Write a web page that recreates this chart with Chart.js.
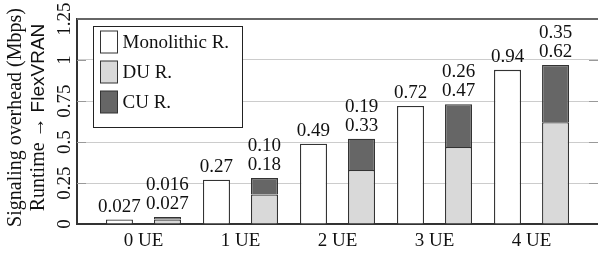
<!DOCTYPE html>
<html>
<head>
<meta charset="utf-8">
<script src="https://cdn.jsdelivr.net/npm/chart.js@4"></script>
<style>
  body { margin: 0; background: #fff; }
</style>
</head>
<body>
<canvas id="chart" width="598" height="255"></canvas>
<script>
const categories = ['0 UE', '1 UE', '2 UE', '3 UE', '4 UE'];
const positions = [0, 1, 2, 3, 4];
const monolithic = [0.027, 0.27, 0.49, 0.72, 0.94];
const duRuntime = [0.027, 0.18, 0.33, 0.47, 0.62];
const cuRuntime = [0.016, 0.10, 0.19, 0.26, 0.35];
const yTicks = [0, 0.25, 0.5, 0.75, 1, 1.25];
const seriesNames = ['Monolithic R.', 'DU R.', 'CU R.'];
const titleLine1 = 'Signaling overhead (Mbps)';
const titleLine2 = ['Runtime \u2192 ', 'FlexVRAN'];

const SERIF = '"Liberation Serif", "DejaVu Serif", serif';
const SANS = '"Liberation Sans", "DejaVu Sans", sans-serif';

const fmt = v => v.toFixed(v < 0.05 ? 3 : 2);
const pts = arr => arr.map((v, i) => ({ x: positions[i], y: v }));

// value labels above bars, two lines on the stacked bar
const barLabels = {
  id: 'barLabels',
  afterDatasetsDraw(chart) {
    const ctx = chart.ctx;
    ctx.save();
    ctx.font = '19px ' + SERIF;
    ctx.fillStyle = '#111';
    ctx.textAlign = 'center';
    ctx.textBaseline = 'alphabetic';
    const mono = chart.getDatasetMeta(0).data;
    const cu = chart.getDatasetMeta(2).data;
    mono.forEach((bar, i) => {
      ctx.fillText(fmt(monolithic[i]), bar.x, bar.y - 8);
    });
    cu.forEach((bar, i) => {
      ctx.fillText(fmt(duRuntime[i]), bar.x, bar.y - 8);
      ctx.fillText(fmt(cuRuntime[i]), bar.x, bar.y - 27);
    });
    ctx.restore();
  }
};

// frame, inner ticks, legend box and the y title
const decor = {
  id: 'decor',
  afterDraw(chart) {
    const ctx = chart.ctx;
    const a = chart.chartArea;
    const ys = chart.scales.y;
    ctx.save();

    ctx.strokeStyle = '#999';
    ctx.lineWidth = 1;
    yTicks.slice(1, -1).forEach(v => {
      const y = Math.round(ys.getPixelForValue(v)) + 0.5;
      ctx.beginPath();
      ctx.moveTo(a.left, y); ctx.lineTo(a.left + 9, y);
      ctx.moveTo(a.right - 9, y); ctx.lineTo(a.right, y);
      ctx.stroke();
    });

    ctx.strokeStyle = '#666';
    ctx.lineWidth = 2;
    ctx.beginPath();
    ctx.moveTo(a.left, a.top); ctx.lineTo(a.right, a.top);
    ctx.stroke();

    // legend
    const bx = a.left + 16.5, by = a.top + 7.5, bw = 149, bh = 101;
    ctx.fillStyle = '#fff';
    ctx.fillRect(bx, by, bw, bh);
    ctx.strokeStyle = '#222';
    ctx.lineWidth = 1;
    ctx.strokeRect(bx, by, bw, bh);
    ctx.font = '19px ' + SERIF;
    ctx.textBaseline = 'middle';
    ctx.textAlign = 'left';
    chart.data.datasets.forEach((ds, i) => {
      const sy = by + 4.5 + i * 30;
      ctx.fillStyle = ds.backgroundColor;
      ctx.fillRect(bx + 7, sy, 17, 22);
      ctx.strokeStyle = '#333';
      ctx.strokeRect(bx + 7, sy, 17, 22);
      ctx.fillStyle = '#111';
      ctx.fillText(seriesNames[i], bx + 29, sy + 12);
    });

    // y title, rotated, with the sans FlexVRAN
    const cy = (a.top + a.bottom) / 2;
    ctx.translate(0, cy);
    ctx.rotate(-Math.PI / 2);
    ctx.fillStyle = '#111';
    ctx.textAlign = 'center';
    ctx.font = '20px ' + SERIF;
    ctx.fillText(titleLine1, 4, 16);
    const w1 = ctx.measureText(titleLine2[0]).width;
    ctx.font = '19px ' + SANS;
    const w2 = ctx.measureText(titleLine2[1]).width;
    const start = 4 - (w1 + w2) / 2;
    ctx.textAlign = 'left';
    ctx.font = '20px ' + SERIF;
    ctx.fillText(titleLine2[0], start, 39);
    ctx.font = '19px ' + SANS;
    ctx.fillText(titleLine2[1], start + w1, 39);
    ctx.restore();
  }
};

new Chart(document.getElementById('chart'), {
  type: 'bar',
  data: {
    datasets: [
      { label: seriesNames[0], data: pts(monolithic), stack: 'mono',
        backgroundColor: '#ffffff', borderColor: '#333', borderWidth: 1.3 },
      { label: seriesNames[1], data: pts(duRuntime), stack: 'split',
        backgroundColor: '#d9d9d9', borderColor: '#333', borderWidth: 1.3 },
      { label: seriesNames[2], data: pts(cuRuntime), stack: 'split',
        backgroundColor: '#666666', borderColor: '#333', borderWidth: 1.3 }
    ]
  },
  options: {
    responsive: false,
    animation: false,
    barPercentage: 0.5625,
    categoryPercentage: 0.99,
    layout: { padding: { top: 19, left: 52, right: 0, bottom: 0 } },
    plugins: { legend: { display: false }, tooltip: { enabled: false } },
    scales: {
      x: {
        type: 'linear',
        offset: false,
        min: -0.685,
        max: 4.685,
        stacked: true,
        afterFit: s => { s.height = 31; },
        afterBuildTicks: s => { s.ticks = positions.map(v => ({ value: v })); },
        grid: { display: false, drawTicks: false, offset: false },
        border: { color: '#333', width: 2 },
        ticks: {
          autoSkip: false,
          padding: 6,
          color: '#111',
          font: { family: SERIF, size: 19 },
          callback: v => categories[v] ?? ''
        }
      },
      y: {
        min: 0,
        max: 1.25,
        stacked: true,
        afterFit: s => { s.width = 25; },
        afterBuildTicks: s => { s.ticks = yTicks.map(v => ({ value: v })); },
        grid: {
          drawTicks: false,
          color: c => c.tick && c.tick.value === 1.25 ? 'rgba(0,0,0,0)' : '#cccccc',
          lineWidth: 1
        },
        border: { color: '#333', width: 2 },
        ticks: {
          autoSkip: false,
          minRotation: 90,
          maxRotation: 90,
          crossAlign: 'center',
          padding: -5,
          color: '#111',
          font: { family: SERIF, size: 19 },
          callback: v => String(v)
        }
      }
    }
  },
  plugins: [barLabels, decor]
});
</script>
</body>
</html>
